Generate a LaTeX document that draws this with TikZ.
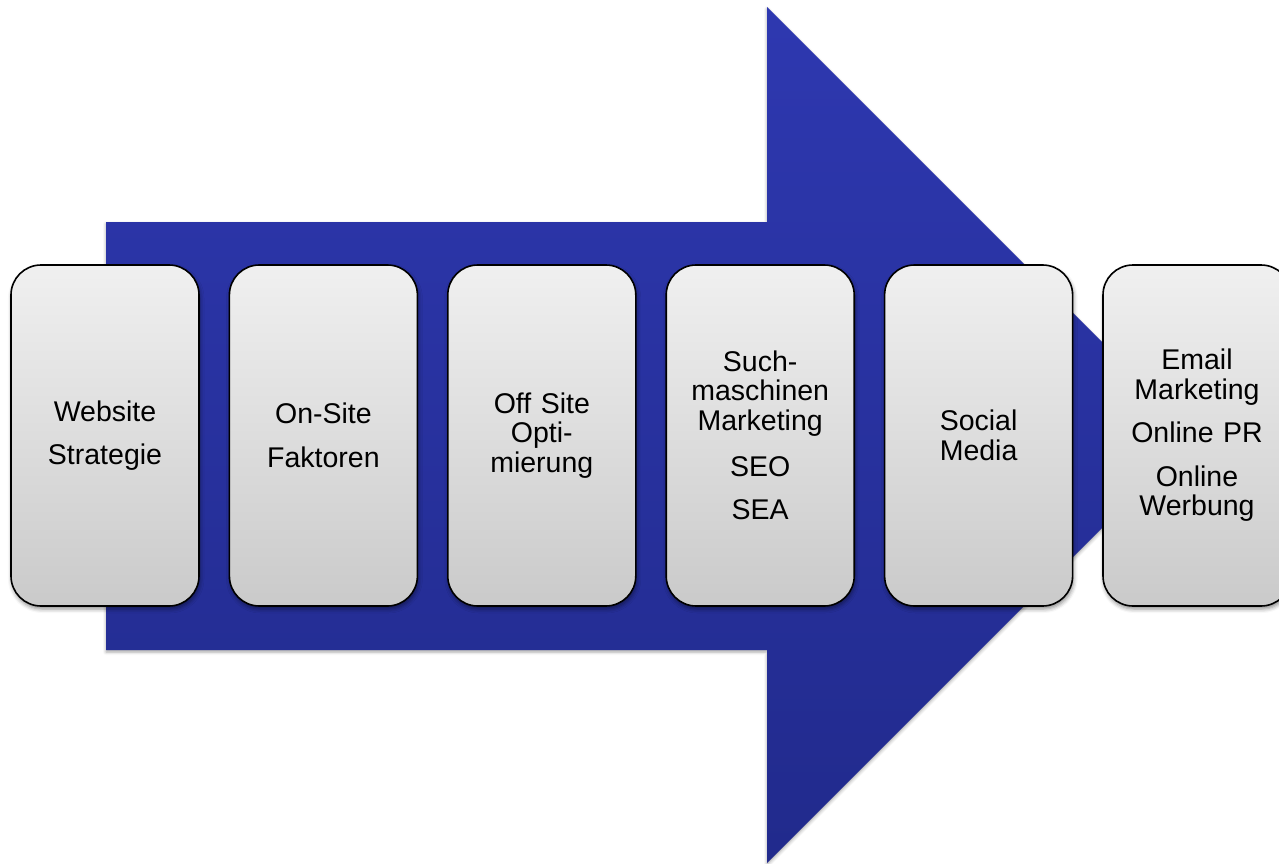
\documentclass[tikz,border=0pt]{standalone}
\usepackage{fontspec}
\setmainfont{Liberation Sans}
\usetikzlibrary{shadows.blur}
\definecolor{arrowtop}{HTML}{2E38B0}
\definecolor{arrowbot}{HTML}{212A8C}
\definecolor{boxtop}{HTML}{F0F0F0}
\definecolor{boxbot}{HTML}{CACACA}
\begin{document}
\begin{tikzpicture}[x=1pt,y=-1pt,
  stage/.style={draw=black, line width=1.6pt, rounded corners=30pt,
    top color=boxtop, bottom color=boxbot,
    minimum width=188pt, minimum height=341pt, inner sep=0pt,
    text width=180pt, align=center,
    font=\fontsize{28.5}{29.5}\selectfont,
    blur shadow={shadow xshift=1pt, shadow yshift=-3pt, shadow blur radius=4pt, shadow opacity=45}},
  bigarrow/.style={top color=arrowtop, bottom color=arrowbot,
    blur shadow={shadow xshift=0pt, shadow yshift=-2pt, shadow blur radius=3pt, shadow opacity=35}}
]
\useasboundingbox (0,0) rectangle (1279,864);

% the large arrow behind the stages
\path[bigarrow] (106,222) -- (767,222) -- (767,7) -- (1195,435)
  -- (767,863) -- (767,650) -- (106,650) -- cycle;

% stages
\node[stage] (s1) at (105,435.5) {Website\\[14pt]Strategie};
\node[stage] (s2) at (323.4,435.5) {On-Site\\[14pt]Faktoren};
\node[stage] (s3) at (541.8,435.5) {Off Site\\Opti-\\mierung};
\node[stage] (s4) at (760.2,435.5) {Such-\\maschinen\\Marketing\\[17pt]SEO\\[13.5pt]SEA};
\node[stage] (s5) at (978.6,435.5) {Social\\Media};
\node[stage] (s6) at (1197,435.5) {Email\\Marketing\\[13.5pt]Online PR\\[14.5pt]Online\\Werbung};
\end{tikzpicture}
\end{document}
